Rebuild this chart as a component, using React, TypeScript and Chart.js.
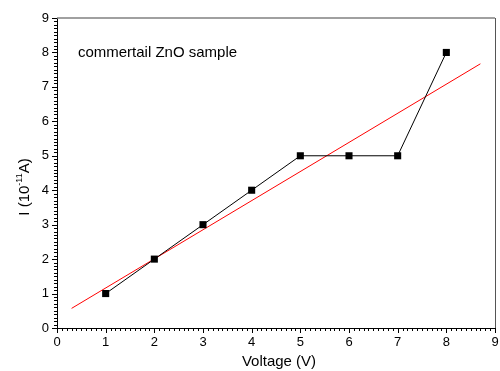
import React, { useEffect, useRef } from "react";
import { Chart, registerables } from "chart.js";

Chart.register(...registerables);

const voltage = [1, 2, 3, 4, 5, 6, 7, 8];
const current = [1, 2, 3, 4, 5, 5, 5, 8];
const fitX = [0.3, 8.7];
const fitY = [0.57, 7.67];
const axisMin = 0;
const axisMax = 9;
const sampleLabel = "commertail ZnO sample";
const xTitle = "Voltage (V)";

const FONT = "'Liberation Sans', Arial, sans-serif";

const decorPlugin = {
  id: "decor",
  afterDraw(chart: any) {
    const { ctx, chartArea, scales } = chart;
    const { left, right, top, bottom } = chartArea;
    const xs = scales.x;
    const ys = scales.y;
    ctx.save();
    // top & right frame
    ctx.strokeStyle = "#808080";
    ctx.lineWidth = 1.5;
    ctx.beginPath();
    ctx.moveTo(left, top);
    ctx.lineTo(right, top);
    ctx.stroke();
    ctx.strokeStyle = "#555";
    ctx.lineWidth = 1;
    ctx.beginPath();
    ctx.moveTo(right + 0.5, top);
    ctx.lineTo(right + 0.5, bottom);
    ctx.stroke();
    // ticks
    ctx.strokeStyle = "#000";
    ctx.lineWidth = 1;
    for (let i = axisMin * 10; i <= axisMax * 10; i++) {
      const len = i % 10 === 0 ? 5 : 3;
      const px = Math.round(xs.getPixelForValue(i / 10)) + 0.5;
      ctx.beginPath();
      ctx.moveTo(px, bottom);
      ctx.lineTo(px, bottom + len);
      ctx.stroke();
      const py = Math.round(ys.getPixelForValue(i / 10)) + 0.5;
      ctx.beginPath();
      ctx.moveTo(left, py);
      ctx.lineTo(left - len, py);
      ctx.stroke();
    }
    // annotation
    ctx.fillStyle = "#000";
    ctx.font = `15px ${FONT}`;
    ctx.textAlign = "left";
    ctx.textBaseline = "middle";
    ctx.fillText(sampleLabel, xs.getPixelForValue(0.43), ys.getPixelForValue(8.0));
    // x title
    ctx.textAlign = "center";
    ctx.fillText(xTitle, (left + right) / 2 + 3, bottom + 34);
    // y title with superscript
    ctx.save();
    ctx.translate(25, (top + bottom) / 2 + 14);
    ctx.rotate(-Math.PI / 2);
    const p1 = "I (10";
    const p2 = "-11";
    const p3 = "A)";
    ctx.font = `15px ${FONT}`;
    const w1 = ctx.measureText(p1).width;
    const w3 = ctx.measureText(p3).width;
    ctx.font = `9px ${FONT}`;
    const w2 = ctx.measureText(p2).width;
    const total = w1 + w2 + w3;
    let x0 = -total / 2;
    ctx.textAlign = "left";
    ctx.font = `15px ${FONT}`;
    ctx.fillText(p1, x0, 0);
    x0 += w1;
    ctx.font = `9px ${FONT}`;
    ctx.fillText(p2, x0, -5);
    x0 += w2;
    ctx.font = `15px ${FONT}`;
    ctx.fillText(p3, x0, 0);
    ctx.restore();
    ctx.restore();
  },
};

export default function App() {
  const ref = useRef<HTMLCanvasElement | null>(null);
  useEffect(() => {
    document.body.style.margin = "0";
    const canvas = ref.current;
    if (!canvas) return;
    const chart = new Chart(canvas, {
      type: "scatter",
      data: {
        datasets: [
          {
            data: voltage.map((v, i) => ({ x: v, y: current[i] })),
            showLine: true,
            borderColor: "#000",
            borderWidth: 1,
            backgroundColor: "#000",
            pointStyle: "rect",
            pointRadius: 5,
            pointBorderWidth: 0,
            order: 1,
          },
          {
            data: fitX.map((v, i) => ({ x: v, y: fitY[i] })),
            showLine: true,
            borderColor: "#ff0000",
            borderWidth: 1,
            pointRadius: 0,
            order: 2,
          },
        ],
      },
      options: {
        animation: false,
        responsive: false,
        layout: { padding: { top: 18, right: 5, left: 0, bottom: 0 } },
        plugins: { legend: { display: false }, tooltip: { enabled: false } },
        scales: {
          x: {
            type: "linear",
            min: axisMin,
            max: axisMax,
            afterFit: (s: any) => {
              s.height = 43;
              s.paddingRight = 0;
              s.paddingLeft = 0;
            },
            grid: { drawOnChartArea: false, drawTicks: false },
            border: { display: true, color: "#000", width: 1 },
            ticks: {
              stepSize: 1,
              padding: 7,
              color: "#000",
              font: { family: FONT, size: 13 },
              maxRotation: 0,
            },
          },
          y: {
            type: "linear",
            min: axisMin,
            max: axisMax,
            afterFit: (s: any) => {
              s.width = 57;
              s.paddingTop = 0;
              s.paddingBottom = 0;
            },
            grid: { drawOnChartArea: false, drawTicks: false },
            border: { display: true, color: "#000", width: 1 },
            ticks: {
              stepSize: 1,
              padding: 8,
              color: "#000",
              font: { family: FONT, size: 13 },
            },
          },
        },
      },
      plugins: [decorPlugin],
    });
    return () => chart.destroy();
  }, []);
  return (
    <div style={{ width: 500, height: 371, background: "#fff" }}>
      <canvas ref={ref} width={500} height={371} />
    </div>
  );
}
